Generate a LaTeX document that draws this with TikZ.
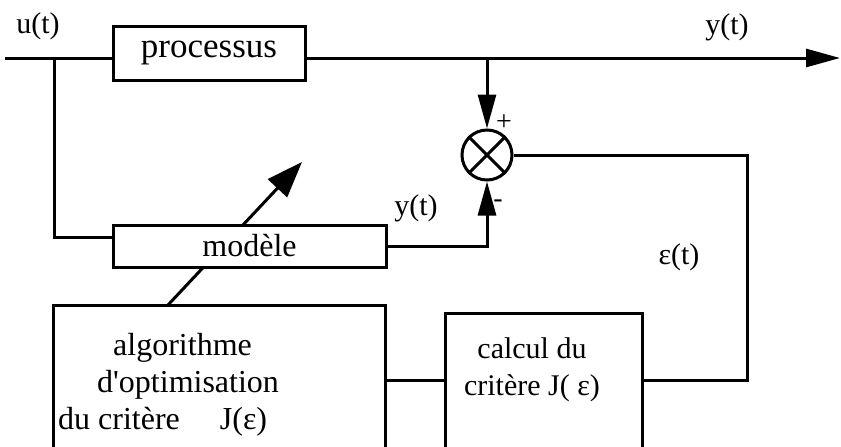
\documentclass[tikz,border=0pt]{standalone}
\usepackage{fontspec}
\setmainfont{Liberation Serif}
\usetikzlibrary{arrows.meta}

\begin{document}
\begin{tikzpicture}[x=1pt, y=-1pt,
    wire/.style={line width=3pt},
    sig/.style={wire, -{Triangle[length=34pt, width=18pt]}},
    block/.style={draw, line width=3pt, fill=white, inner sep=0pt},
    lbl/.style={font=\fontsize{30}{37}\selectfont, inner sep=0pt, align=center},
]
\useasboundingbox (0,0) rectangle (841,447);
\clip (0,0) rectangle (841,447);

% adaptation arrow through the model (drawn first, hidden by the block)
\coordinate (atail) at (168,305);
\coordinate (ahead) at (302,162);
\draw[wire, -{Triangle[length=36pt, width=26pt]}] (atail) -- (ahead);

% blocks
\node[block, minimum width=192pt, minimum height=54pt, font=\fontsize{35}{37}\selectfont] (proc) at (209,53) {processus};
\node[block, minimum width=273pt, minimum height=42pt, font=\fontsize{32}{37}\selectfont] (model) at (249.5,246) {modèle};
\node[block, minimum width=332pt, minimum height=160pt] (algo) at (219,385) {};
\node[block, minimum width=197pt, minimum height=150pt] (crit) at (543.5,388) {};
\node[circle, draw, line width=3pt, minimum size=50pt, inner sep=0pt] (sum) at (487,155) {};
\draw[wire] (sum.north west) -- (sum.south east);
\draw[wire] (sum.north east) -- (sum.south west);

% block texts
\node[lbl, align=left, anchor=west, font=\fontsize{32}{37}\selectfont] (algotxt) at (58,385)
    {\hspace{55pt}algorithme\\\hspace{39pt}d\textquotesingle optimisation\\du critère\hspace{40pt}J(ε)};
\node[lbl] (crittxt) at (532,370) {calcul du\\critère J( ε)};

% signals
\coordinate (in) at (5,58);
\coordinate (out) at (840,58);
\coordinate (tap) at (54,58);
\coordinate (mi) at (54,237);
\coordinate (ecorner) at (747,380);
\draw[wire] (in) -- (in -| proc.west);
\draw[sig] (proc.east |- in) -- (out);
\draw[wire] (tap) -- (mi) -- (mi -| model.west);
\draw[sig] (sum.north |- in) -- (sum.north);
\draw[sig] (model.east) -| (sum.south);
\draw[wire] (sum.east) -| (ecorner) -- (ecorner -| crit.east);
\draw[wire] (algo.east |- ecorner) -- (crit.west |- ecorner);

% labels
\node[lbl] (ulbl) at (38,26) {u(t)};
\node[lbl] (ylbl) at (727,27) {y(t)};
\node[lbl] (ymlbl) at (416,208) {y(t)};
\node[lbl] (elbl) at (679,257) {ε(t)};
\node[lbl, font=\fontsize{28}{30}\selectfont] (plus) at (504,123) {+};
\node[lbl, font=\fontsize{28}{30}\selectfont] (minus) at (498,204) {-};
\end{tikzpicture}
\end{document}
